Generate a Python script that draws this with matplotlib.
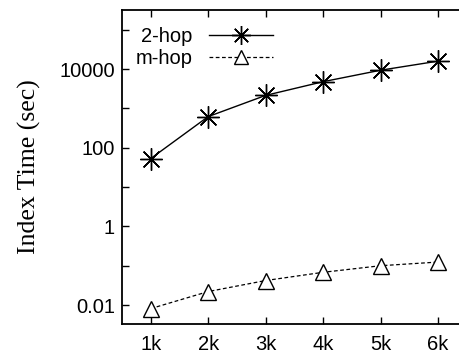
import matplotlib.pyplot as plt
import numpy as np

# data
sizes = ["1k", "2k", "3k", "4k", "5k", "6k"]
x_pos = [1, 2, 3, 4, 5, 6]
two_hop = [53, 620, 2150, 4800, 9400, 16000]
m_hop = [0.0081, 0.022, 0.042, 0.068, 0.10, 0.124]
ytick_vals = [0.01, 1, 100, 10000]
ytick_labels = ["0.01", "1", "100", "10000"]
yminor_vals = [0.1, 10, 1000, 100000]

plt.rcParams['font.family'] = ['Liberation Sans', 'DejaVu Sans']

fig = plt.figure(figsize=(4.6, 3.56), dpi=100)
ax = fig.add_axes([0.265, 0.09, 0.75, 0.882])

ax.plot(x_pos, two_hop, color='black', lw=1.0, marker=(8, 2, 0), ms=16,
        mew=1.0, label='2-hop')
ax.plot(x_pos, m_hop, color='black', lw=0.9, dashes=(3, 2), marker='^', ms=12,
        mfc='white', mew=1.0, label='m-hop')

ax.set_yscale('log')
ax.set_ylim(0.0033, 320000)
ax.set_xlim(0.5, 6.5)
ax.set_xticks(x_pos)
ax.set_xticklabels(sizes)
ax.set_yticks(ytick_vals)
ax.set_yticklabels(ytick_labels)
ax.set_yticks(yminor_vals, minor=True)
ax.yaxis.set_minor_formatter(plt.NullFormatter())

ax.tick_params(which='both', direction='in', top=True, right=True,
               length=5, width=1.0, labelsize=14.5)
ax.tick_params(axis='x', pad=8)
ax.tick_params(axis='y', pad=5)
for s in ax.spines.values():
    s.set_linewidth(1.3)

ax.set_ylabel('Index Time (sec)', family='Liberation Serif', fontsize=18.5,
              labelpad=13)

ax.legend(loc='upper right', bbox_to_anchor=(0.48, 0.99), markerfirst=False,
          frameon=False, fontsize=14.5, handlelength=3.2, handletextpad=0.8,
          labelspacing=0.15, borderaxespad=0.3, markerscale=0.85)

fig.savefig('out.png', dpi=100)
